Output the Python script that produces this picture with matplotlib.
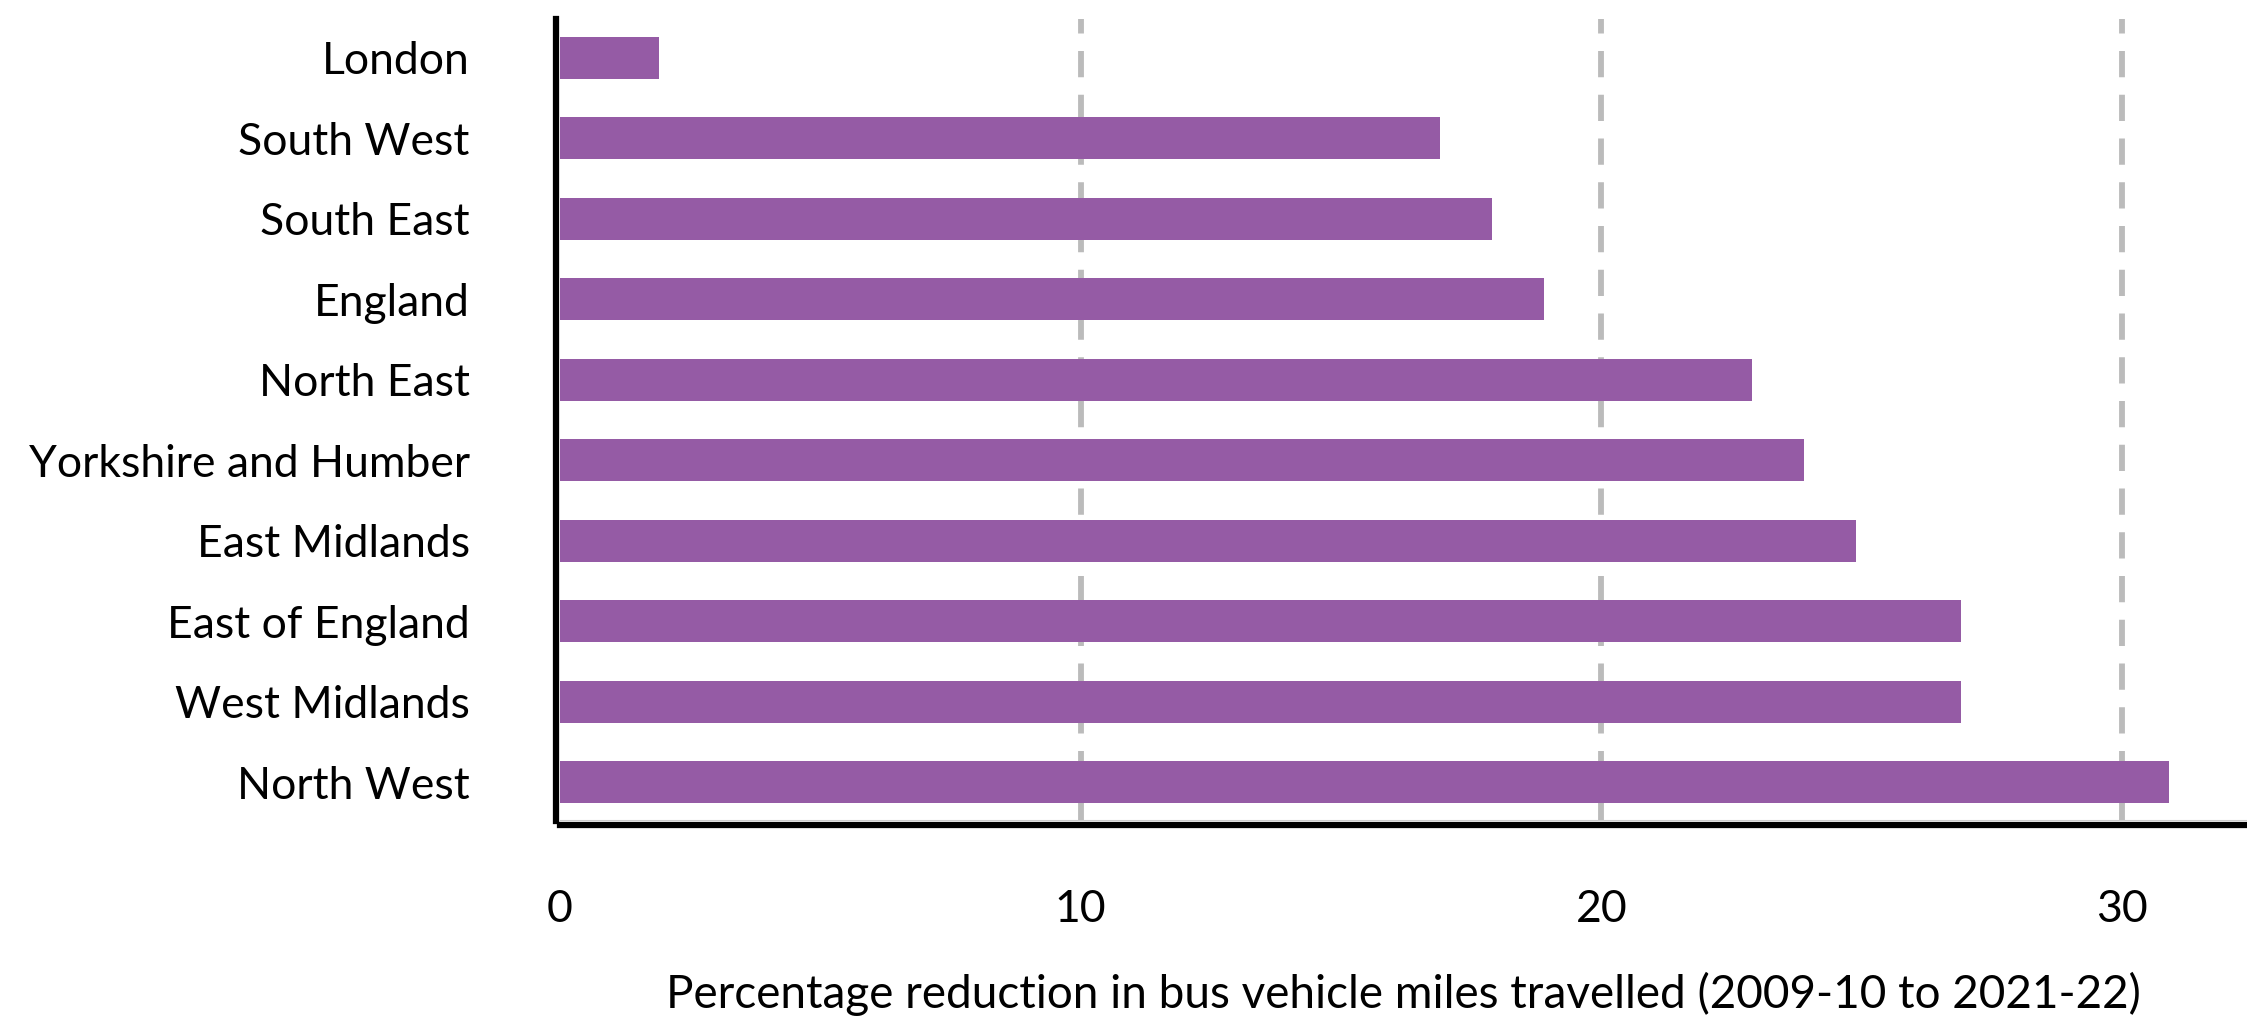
import matplotlib
matplotlib.use("Agg")
import matplotlib.pyplot as plt

regions = ["London", "South West", "South East", "England", "North East",
           "Yorkshire and Humber", "East Midlands", "East of England",
           "West Midlands", "North West"]
reduction = [1.9, 16.9, 17.9, 18.9, 22.9, 23.9, 24.9, 26.9, 26.9, 30.9]
xticks = [0, 10, 20, 30]
xlabel = "Percentage reduction in bus vehicle miles travelled (2009-10 to 2021-22)"

plt.rcParams['font.family'] = ['Lato', 'DejaVu Sans']

W, H = 2247, 1023
fig = plt.figure(figsize=(W / 100, H / 100), dpi=100)
ax = fig.add_axes([560 / W, 1 - 821 / H, 1 - 560 / W, (821 - 19) / H])

ypos = list(range(len(regions)))
ax.barh(ypos, reduction, height=0.52, color="#955BA5", zorder=2)
ax.set_ylim(len(regions) - 0.52, -0.48)
ax.set_xlim(0, 32.4)

for t in xticks[1:]:
    ax.axvline(t, color="#bbbbbb", linewidth=4.2, linestyle=(0, (4.5, 3)), zorder=1)

ax.set_yticks(ypos)
ax.set_yticklabels(regions)
ax.set_xticks(xticks)
ax.set_xticklabels([str(t) for t in xticks])
ax.tick_params(axis="y", length=0, pad=62, labelsize=32)
ax.tick_params(axis="x", length=0, pad=46, labelsize=32)

ax.set_xlabel(xlabel, fontsize=33, labelpad=30)

for s in ["top", "right"]:
    ax.spines[s].set_visible(False)
ax.spines["left"].set_linewidth(4.5)
ax.spines["left"].set_color("black")
ax.spines["left"].set_position(("outward", 3))
ax.spines["bottom"].set_linewidth(4.5)
ax.spines["bottom"].set_color("black")
ax.spines["bottom"].set_position(("outward", 3))
ax.axhline(len(regions) - 0.52, color="#cccccc", linewidth=1.5, zorder=1)

fig.savefig("out.png", dpi=100)
